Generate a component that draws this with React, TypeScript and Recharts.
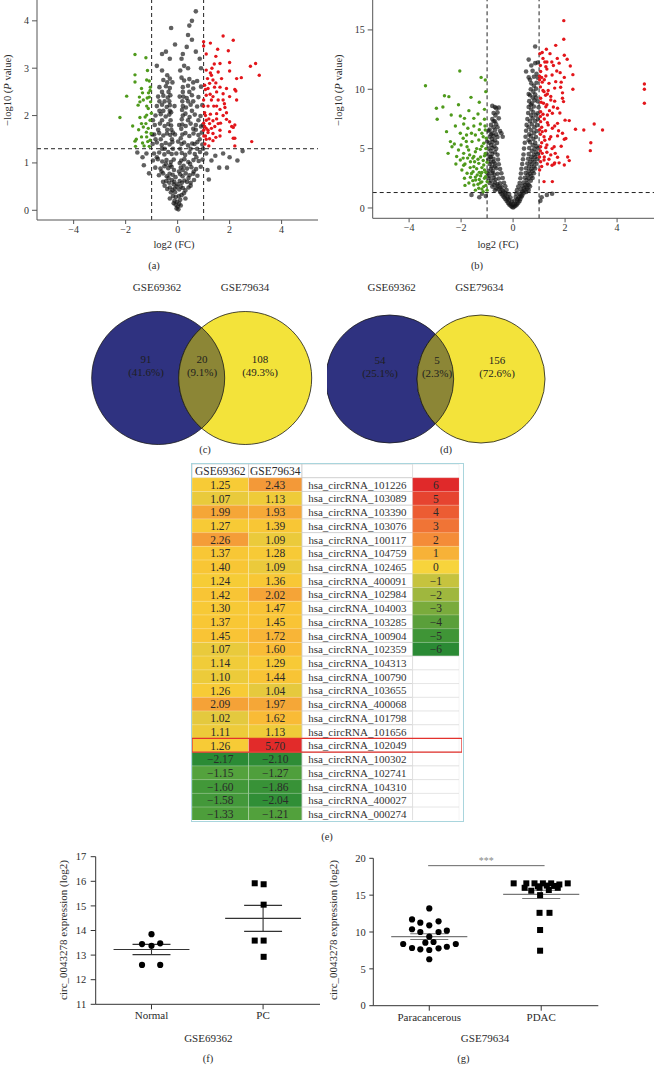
import React from "react";
import {
  Bar,
  BarChart,
  Cell,
  LabelList,
  ReferenceArea,
  ReferenceLine,
  Scatter,
  ScatterChart,
  XAxis,
  YAxis,
} from "recharts";

const SERIF = "'Liberation Serif', 'DejaVu Serif', Times, serif";
const INK = "#2b2b2b";

// (a) GSE69362 volcano, [log2 FC, -log10 P]
const upA: [number, number][] = [
  [1.75, 3.68], [2.14, 3.59], [1.26, 3.53], [1.0, 3.56], [1.54, 3.4], [1.95, 3.37], [1.0, 3.47], [1.1, 3.3],
  [1.47, 3.25], [2.8, 3.04], [3.0, 3.1], [3.14, 2.85], [2.0, 3.12], [2.0, 2.94], [2.45, 2.8], [2.27, 2.78],
  [1.63, 3.1], [1.41, 3.09], [1.1, 2.96], [1.26, 2.9], [1.56, 2.92], [1.69, 2.78], [1.36, 2.75], [1.04, 2.64],
  [1.17, 2.57], [1.47, 2.69], [1.63, 2.6], [1.88, 2.57], [2.2, 2.55], [2.24, 2.52], [1.1, 2.43], [1.36, 2.4],
  [1.56, 2.33], [1.75, 2.33], [2.27, 2.33], [1.0, 2.33], [1.17, 2.2], [1.39, 2.2], [1.63, 2.13], [1.82, 2.17],
  [1.04, 2.06], [1.26, 2.03], [1.5, 2.04], [1.1, 1.9], [1.36, 1.89], [1.65, 1.84], [2.0, 1.87], [1.88, 1.92],
  [2.2, 1.8], [1.04, 1.77], [1.23, 1.83], [1.43, 1.77], [2.14, 1.75], [1.17, 1.69], [1.36, 1.62], [1.63, 1.69],
  [1.07, 1.57], [1.23, 1.51], [1.47, 1.54], [2.85, 1.45], [1.1, 1.5], [1.17, 1.64], [2.14, 1.52], [2.08, 1.77],
  [2.2, 1.52], [1.23, 2.68], [1.07, 2.55], [1.5, 2.5], [1.75, 2.46], [1.3, 2.33], [2.0, 2.4], [1.0, 2.2],
  [1.5, 2.2], [1.88, 2.06], [1.07, 2.0], [1.2, 1.93], [1.5, 1.93], [1.75, 2.0], [1.0, 1.84], [1.3, 1.73],
  [1.56, 1.83], [2.0, 1.66], [1.0, 1.69], [1.36, 1.47], [1.01, 1.57], [1.63, 1.57], [1.1, 1.73], [2.2, 1.36],
  [1.2, 1.36], [1.05, 1.4], [1.3, 2.85], [1.42, 2.6], [1.15, 2.78], [1.32, 3.0], [1.8, 2.25], [1.25, 2.45],
];
const downA: [number, number][] = [
  [-1.64, 3.29], [-1.22, 3.22], [-1.64, 2.86], [-1.64, 2.71], [-1.16, 2.95], [-1.19, 2.75], [-1.09, 2.73],
  [-1.96, 2.41], [-2.22, 1.96], [-1.73, 1.78], [-1.39, 2.57], [-1.35, 2.48], [-1.45, 2.29], [-1.32, 2.33],
  [-1.52, 2.22], [-1.19, 2.2], [-1.13, 2.15], [-1.06, 2.53], [-1.09, 2.39], [-1.19, 2.01], [-1.39, 1.83],
  [-1.22, 1.83], [-1.06, 1.9], [-1.32, 1.76], [-1.13, 1.73], [-1.59, 1.5], [-1.64, 1.46], [-1.39, 1.55],
  [-1.19, 1.55], [-1.06, 1.48], [-1.29, 1.36], [-1.62, 1.35], [-1.09, 1.35], [-1.45, 1.96], [-1.25, 1.97],
  [-1.04, 2.29], [-1.17, 2.37], [-1.47, 2.39], [-1.01, 2.05], [-1.2, 1.65], [-1.5, 1.7], [-1.02, 1.62],
  [-1.35, 1.42], [-1.15, 1.45], [-1.05, 2.6], [-1.12, 2.48],
];
const restA: [number, number][] = [
  [-0.04, 0.04], [0.03, 0.02], [0.0, 0.08], [-0.08, 0.12], [0.06, 0.14], [-0.12, 0.2], [0.1, 0.22], [-0.02, 0.18],
  [-0.18, 0.3], [-0.07, 0.28], [0.05, 0.3], [0.15, 0.32], [0.24, 0.36], [-0.26, 0.38],
  [-0.4, 0.45], [-0.3, 0.48], [-0.2, 0.43], [-0.11, 0.46], [-0.04, 0.5], [0.06, 0.44], [0.12, 0.5], [0.2, 0.47], [0.3, 0.42], [0.42, 0.48],
  [-0.56, 0.6], [-0.44, 0.62], [-0.32, 0.58], [-0.22, 0.64], [-0.13, 0.6], [0.08, 0.62], [0.16, 0.58], [0.26, 0.63], [0.36, 0.6], [0.5, 0.58], [0.63, 0.64],
  [-0.72, 0.74], [-0.56, 0.78], [-0.42, 0.72], [-0.31, 0.77], [-0.19, 0.75], [0.1, 0.76], [0.19, 0.72], [0.31, 0.78], [0.46, 0.74], [0.6, 0.77], [0.76, 0.73],
  [-0.86, 0.9], [-0.66, 0.88], [-0.51, 0.93], [-0.36, 0.89], [-0.23, 0.92], [0.12, 0.9], [0.23, 0.94], [0.36, 0.88], [0.53, 0.91], [0.71, 0.87], [0.89, 0.92],
  [-0.95, 1.05], [-0.76, 1.08], [-0.59, 1.03], [-0.43, 1.06], [-0.26, 1.02], [-0.15, 1.07], [0.14, 1.05], [0.26, 1.08], [0.41, 1.02], [0.61, 1.06], [0.81, 1.04], [0.96, 1.07],
  [-0.91, 1.2], [-0.71, 1.22], [-0.51, 1.18], [-0.36, 1.23], [-0.23, 1.19], [0.16, 1.21], [0.29, 1.17], [0.46, 1.22], [0.66, 1.19], [0.86, 1.23],
  [-1.55, 1.22], [-1.3, 0.95], [-1.2, 1.2], [-1.1, 0.78], [-1.35, 1.12], [1.15, 0.85], [1.3, 1.05], [1.6, 0.9], [1.9, 0.9], [2.3, 1.05],
  [2.5, 1.25], [1.75, 1.2], [2.0, 1.12], [1.1, 1.2], [1.45, 1.15], [1.2, 0.65],
  [-0.96, 1.4], [-0.8, 1.43], [-0.61, 1.38], [-0.46, 1.42], [-0.31, 1.39], [-0.2, 1.44], [0.15, 1.4], [0.25, 1.43], [0.4, 1.37], [0.56, 1.41], [0.76, 1.44], [0.95, 1.39],
  [-0.9, 1.6], [-0.71, 1.63], [-0.55, 1.58], [-0.41, 1.62], [-0.28, 1.59], [-0.18, 1.64], [0.18, 1.6], [0.3, 1.63], [0.45, 1.57], [0.61, 1.62], [0.8, 1.59], [0.93, 1.64],
  [-0.88, 1.8], [-0.68, 1.83], [-0.5, 1.78], [-0.36, 1.82], [-0.25, 1.79], [0.18, 1.81], [0.31, 1.78], [0.5, 1.83], [0.7, 1.8], [0.9, 1.77],
  [-0.85, 2.0], [-0.65, 2.03], [-0.46, 1.98], [-0.32, 2.02], [-0.25, 2.07], [0.2, 2.0], [0.3, 2.04], [0.46, 1.97], [0.66, 2.02], [0.88, 1.99],
  [-0.8, 2.2], [-0.6, 2.23], [-0.42, 2.18], [-0.3, 2.22], [0.2, 2.2], [0.32, 2.17], [0.5, 2.23], [0.75, 2.19], [0.95, 2.22],
  [-0.75, 2.4], [-0.55, 2.42], [-0.38, 2.38], [-0.28, 2.43], [0.22, 2.4], [0.35, 2.37], [0.55, 2.43], [0.8, 2.39],
  [-0.7, 2.6], [-0.45, 2.62], [-0.3, 2.58], [0.2, 2.6], [0.4, 2.63], [0.6, 2.57], [0.9, 2.61],
  [-0.55, 2.75], [-0.3, 2.78], [0.25, 2.74], [0.45, 2.77], [0.75, 2.73],
  [-0.6, 2.95], [-0.3, 3.2], [-0.45, 3.35], [-0.6, 3.3], [-0.1, 3.5], [0.25, 3.05], [0.4, 3.0], [0.2, 3.3], [0.35, 3.45], [-0.25, 3.85],
  [0.4, 3.7], [0.55, 3.6], [0.7, 3.35], [0.85, 3.2], [0.55, 4.0], [0.7, 4.2], [0.45, 3.9], [0.9, 3.0], [-0.8, 3.05], [0.15, 3.2],
  [-0.1, 0.38], [0.0, 0.55], [-0.08, 0.7], [0.05, 0.82], [-0.14, 0.85], [0.08, 1.0], [-0.18, 1.3], [0.1, 1.3], [-0.22, 1.5], [0.12, 1.52],
  [-0.24, 1.7], [0.14, 1.72], [-0.27, 1.9], [0.16, 1.92], [-0.3, 2.1], [0.17, 2.12], [-0.32, 2.3], [0.18, 2.3], [-0.35, 2.5], [0.2, 2.5],
  [-0.2, 2.7], [0.15, 2.8], [-0.5, 1.3], [0.5, 1.3], [-0.65, 1.5], [0.7, 1.7], [-0.4, 1.7], [0.4, 1.9], [-0.55, 2.1], [0.6, 2.3], [-0.7, 2.3], [0.65, 1.4],
  [-0.15, 0.15], [0.12, 0.1], [-0.3, 0.25], [0.3, 0.25], [-0.5, 0.52], [0.5, 0.52], [-0.35, 0.68], [0.42, 0.68], [-0.62, 0.82], [0.62, 0.82],
  [-0.45, 0.98], [0.48, 0.98], [-0.8, 1.12], [0.72, 1.12], [-0.6, 1.3], [0.75, 1.3], [-0.85, 1.5], [0.85, 1.5], [-0.75, 1.7], [0.6, 1.72],
  [-0.6, 1.9], [0.8, 1.9], [-0.7, 2.1], [0.55, 2.1], [-0.5, 2.3], [0.4, 2.3], [-0.6, 2.5], [0.45, 2.5], [-0.4, 2.7], [0.6, 2.7],
  [-0.12, 2.2], [0.08, 2.4], [-0.1, 1.6], [0.06, 1.8], [-0.05, 1.2], [0.02, 1.45], [-0.4, 2.85], [0.1, 2.95], [-0.95, 1.9], [0.98, 1.3],
  [-0.98, 1.6], [0.97, 1.8], [-0.15, 0.55], [0.2, 0.85], [-0.28, 0.95],
];

// (b) GSE79634 volcano
const upB: [number, number][] = [
  [1.95, 15.78], [1.95, 14.21], [1.64, 13.7], [1.28, 13.37], [1.12, 13.1], [1.03, 13.0], [1.97, 12.86], [2.08, 12.53],
  [1.49, 12.3], [1.22, 12.3], [1.77, 12.2], [2.2, 11.96], [1.26, 11.9], [1.06, 11.5], [1.68, 11.54], [1.81, 11.4],
  [2.3, 11.23], [1.26, 11.12], [1.97, 11.0], [1.64, 10.64], [1.12, 10.6], [2.3, 10.0], [1.83, 10.17], [1.19, 9.8],
  [1.32, 9.6], [1.06, 9.24], [1.9, 9.24], [1.45, 9.1], [1.17, 8.82], [1.94, 8.96], [1.26, 8.53], [1.71, 8.4],
  [1.06, 8.11], [1.51, 7.98], [1.32, 7.83], [2.16, 7.36], [1.06, 7.27], [1.32, 7.19], [1.71, 7.13], [3.12, 7.08],
  [1.51, 6.71], [2.4, 6.63], [2.72, 6.57], [3.44, 6.57], [1.12, 6.43], [1.19, 6.0], [1.45, 6.0], [1.71, 6.07],
  [1.97, 5.79], [2.03, 5.85], [2.99, 5.5], [1.06, 5.16], [1.26, 5.08], [1.58, 5.16], [2.97, 4.83], [1.12, 4.6],
  [1.45, 4.47], [1.71, 4.27], [1.19, 4.04], [2.16, 3.99], [1.06, 3.9], [1.32, 3.71], [1.58, 3.71], [1.77, 3.8],
  [1.97, 3.62], [1.19, 2.22], [1.51, 2.22], [5.05, 10.45], [5.05, 10.0], [5.05, 8.82],
  [1.05, 12.0], [1.1, 11.0], [1.05, 10.2], [1.15, 9.9], [1.25, 9.5], [1.08, 8.9], [1.3, 8.7], [1.4, 8.2],
  [1.05, 7.7], [1.2, 7.5], [1.35, 7.0], [1.1, 6.8], [1.25, 6.5], [1.05, 6.2], [1.4, 5.8], [1.1, 5.5],
  [1.3, 5.3], [1.5, 5.0], [1.05, 4.8], [1.2, 4.3], [1.38, 4.1], [1.6, 3.8], [1.1, 3.5], [1.45, 9.4],
  [1.6, 9.0], [1.55, 8.5], [1.8, 8.0], [1.5, 11.2], [1.38, 10.5], [1.6, 10.1], [1.9, 9.7], [1.75, 6.5],
  [1.6, 6.9], [2.0, 7.4], [1.9, 6.3], [1.3, 11.7], [1.55, 12.0], [1.2, 10.8], [1.7, 12.6], [1.42, 13.0],
  [1.15, 12.6], [1.85, 10.6], [1.02, 10.8], [1.35, 9.9], [1.15, 7.9], [1.02, 6.6], [1.22, 5.7], [1.62, 4.6],
  [1.3, 4.7], [1.85, 5.2], [2.1, 4.3], [1.5, 3.6], [1.02, 4.3], [1.02, 3.2], [1.02, 11.1], [1.3, 12.3],
];
const downB: [number, number][] = [
  [-3.37, 10.3], [-2.05, 11.54], [-1.23, 11.0], [-1.07, 10.78], [-2.64, 9.46], [-2.47, 9.38], [-1.62, 9.32], [-2.95, 8.4],
  [-1.1, 8.31], [-1.35, 7.92], [-2.38, 7.83], [-2.03, 7.75], [-2.92, 7.47], [-1.87, 7.55], [-1.51, 7.55], [-2.56, 6.43],
  [-2.22, 6.9], [-1.9, 7.08], [-1.74, 6.71], [-1.51, 6.9], [-1.26, 7.08], [-1.1, 7.47], [-2.03, 6.29], [-1.79, 6.15],
  [-1.45, 6.15], [-1.2, 6.29], [-1.07, 6.57], [-2.41, 5.59], [-2.26, 5.39], [-1.92, 5.87], [-1.77, 5.16], [-1.58, 5.59],
  [-1.32, 5.73], [-1.13, 5.45], [-1.03, 5.87], [-2.1, 4.89], [-1.9, 4.6], [-1.67, 4.47], [-1.45, 4.74], [-1.26, 4.94],
  [-1.07, 4.6], [-2.03, 4.04], [-1.85, 3.71], [-1.64, 3.9], [-1.51, 3.48], [-1.32, 3.76], [-1.13, 3.62], [-1.0, 3.85],
  [-1.97, 3.2], [-1.77, 2.92], [-1.54, 3.06], [-1.38, 2.78], [-1.23, 2.92], [-1.06, 2.64], [-1.44, 2.36], [-1.26, 2.13],
  [-1.13, 1.8], [-1.32, 1.66], [-1.51, 1.94], [-1.64, 2.59], [-1.87, 2.5], [-1.0, 2.22], [-1.15, 1.37], [-1.0, 1.5],
  [-1.71, 4.89], [-2.17, 4.33], [-2.35, 5.16], [-1.51, 4.33],
  [-1.1, 3.2], [-1.2, 3.4], [-1.3, 3.0], [-1.4, 3.3], [-1.15, 4.0], [-1.25, 4.3], [-1.35, 4.1], [-1.05, 5.0],
  [-1.2, 5.2], [-1.4, 5.0], [-1.55, 4.2], [-1.65, 3.4], [-1.75, 4.2], [-1.1, 2.5], [-1.2, 2.2], [-1.3, 2.4],
  [-1.45, 2.6], [-1.6, 2.9], [-1.05, 3.0], [-1.15, 6.0], [-1.3, 6.6], [-1.08, 6.9], [-1.9, 3.6], [-2.2, 3.7],
  [-2.5, 4.6], [-1.8, 5.6], [-1.6, 6.3], [-2.0, 5.3], [-1.35, 2.0], [-1.55, 2.3], [-1.7, 2.1], [-1.05, 1.9],
  [-1.2, 1.6], [-1.45, 1.5], [-1.85, 1.9], [-2.7, 8.5], [-1.3, 8.9], [-1.05, 9.8], [-1.7, 8.2], [-2.1, 8.7],
  [-1.2, 3.0], [-1.1, 4.4], [-1.48, 3.9], [-1.92, 4.2], [-1.25, 2.7],
];
const restB: [number, number][] = [
  [-0.05, 0.1], [0, 0.05], [0.05, 0.12], [-0.15, 0.3], [-0.08, 0.35], [0, 0.28], [0.08, 0.32], [0.15, 0.3],
  [-0.25, 0.6], [-0.15, 0.65], [-0.05, 0.55], [0.05, 0.6], [0.15, 0.62], [0.25, 0.58],
  [-0.35, 0.9], [-0.22, 0.95], [-0.1, 0.88], [0.1, 0.92], [0.22, 0.9], [0.32, 0.95],
  [-0.45, 1.2], [-0.3, 1.25], [-0.15, 1.18], [0.12, 1.22], [0.25, 1.2], [0.4, 1.25],
  [-0.7, 1.5], [-0.55, 1.55], [-0.4, 1.48], [-0.25, 1.52], [0.15, 1.5], [0.3, 1.55], [0.45, 1.48], [0.6, 1.52],
  [-0.8, 1.8], [-0.6, 1.85], [-0.45, 1.78], [-0.3, 1.82], [0.2, 1.8], [0.35, 1.85], [0.5, 1.78], [0.65, 1.82],
  [-0.9, 2.1], [-0.7, 2.15], [-0.5, 2.08], [-0.35, 2.12], [0.25, 2.1], [0.4, 2.15], [0.55, 2.08],
  [-0.95, 2.5], [-0.75, 2.55], [-0.55, 2.48], [-0.4, 2.52], [0.28, 2.5], [0.45, 2.55], [0.6, 2.48], [0.75, 2.52],
  [-0.98, 2.9], [-0.8, 2.95], [-0.6, 2.88], [-0.45, 2.92], [0.3, 2.9], [0.48, 2.95], [0.65, 2.88], [0.8, 2.92],
  [-0.85, 3.3], [-0.65, 3.35], [-0.5, 3.28], [0.32, 3.3], [0.5, 3.35], [0.7, 3.28], [0.85, 3.32],
  [-0.9, 3.7], [-0.7, 3.75], [-0.55, 3.68], [0.35, 3.7], [0.55, 3.75], [0.72, 3.68], [0.9, 3.72],
  [-0.95, 4.1], [-0.75, 4.15], [-0.58, 4.08], [0.38, 4.1], [0.58, 4.15], [0.75, 4.08], [0.92, 4.12],
  [-0.98, 4.5], [-0.8, 4.55], [-0.6, 4.48], [0.4, 4.5], [0.6, 4.55], [0.8, 4.48], [0.95, 4.52],
  [-0.95, 5.0], [-0.8, 5.05], [-0.65, 4.98], [0.42, 5.0], [0.62, 5.05], [0.82, 4.98], [0.97, 5.02],
  [-0.92, 5.5], [-0.78, 5.55], [-0.62, 5.48], [0.45, 5.5], [0.65, 5.55], [0.85, 5.48],
  [-0.9, 6.0], [-0.75, 6.05], [-0.6, 5.98], [0.48, 6.0], [0.68, 6.05], [0.88, 5.98],
  [-0.95, 6.5], [-0.7, 6.55], [-0.5, 6.48], [0.5, 6.5], [0.7, 6.55], [0.9, 6.48],
  [-0.85, 7.0], [-0.65, 7.05], [0.52, 7.0], [0.72, 7.05], [0.92, 6.98],
  [-0.8, 7.5], [-0.55, 7.55], [0.55, 7.5], [0.75, 7.55], [0.95, 7.48],
  [-0.75, 8.0], [-0.6, 8.05], [0.58, 8.0], [0.78, 8.05], [0.95, 7.98],
  [-0.7, 8.5], [-0.55, 8.45], [0.6, 8.5], [0.8, 8.55], [0.98, 8.48],
  [0.62, 9.0], [0.82, 9.05], [0.95, 8.98], [0.65, 9.5], [0.85, 9.55], [0.68, 10.0], [0.88, 10.05], [0.7, 10.5], [0.9, 10.55],
  [0.6, 11.0], [0.8, 11.05], [0.95, 10.98], [0.5, 11.5], [0.75, 11.55], [0.85, 12.2], [0.95, 12.25], [0.85, 13.6],
  [-0.45, 6.3], [-0.4, 6.0], [-0.65, 8.4], [-0.8, 8.6], [-0.9, 6.6], [-1.0, 5.6], [-1.05, 1.0], [-1.3, 0.9],
  [-1.2, 1.2], [1.1, 0.9], [1.3, 1.1], [1.05, 0.6], [1.5, 1.2], [-1.6, 1.1],
  [-0.2, 0.8], [0.18, 0.75], [-0.3, 1.1], [0.28, 1.05], [-0.38, 1.4], [0.36, 1.38], [-0.5, 1.7], [0.42, 1.65],
  [-0.6, 2.0], [0.47, 1.95], [-0.68, 2.4], [0.52, 2.35], [-0.72, 2.8], [0.56, 2.75], [-0.78, 3.1], [0.6, 3.1],
  [-0.82, 3.5], [0.62, 3.5], [-0.85, 3.9], [0.66, 3.9], [-0.88, 4.3], [0.7, 4.3], [-0.86, 4.8], [0.72, 4.8],
  [-0.85, 5.3], [0.75, 5.3], [-0.82, 5.8], [0.78, 5.8], [-0.8, 6.3], [0.8, 6.3], [-0.75, 6.8], [0.82, 6.8],
  [-0.7, 7.3], [0.85, 7.3], [-0.68, 7.8], [0.88, 7.8], [0.7, 8.3], [0.72, 8.8], [0.75, 9.3], [0.78, 9.8],
  [-0.1, 0.2], [0.1, 0.2], [-0.2, 0.45], [0.2, 0.45], [-0.3, 0.75], [0.28, 0.75], [-0.4, 1.05], [0.35, 1.05],
  [-0.5, 1.35], [0.5, 1.35], [-0.65, 1.65], [0.55, 1.65], [-0.75, 1.95], [0.6, 1.95], [-0.85, 2.3], [0.68, 2.3],
  [-0.9, 2.7], [0.7, 2.7], [-0.95, 3.1], [0.75, 3.1], [-0.7, 3.5], [0.8, 3.5], [-0.75, 3.9], [0.82, 3.9],
  [-0.85, 4.3], [0.85, 4.3], [-0.7, 4.7], [0.88, 4.7], [-0.72, 5.2], [0.9, 5.2], [-0.7, 5.7], [0.6, 5.7],
  [-0.65, 6.2], [0.62, 6.2], [-0.85, 6.2], [0.6, 6.8], [-0.6, 6.8], [0.65, 7.3], [-0.75, 7.3], [0.7, 7.8],
  [0.68, 8.7], [0.88, 9.3], [0.6, 9.6], [0.8, 10.3], [0.65, 10.8], [0.9, 11.3], [0.7, 12.0], [0.6, 12.5],
];

// (c) up / (d) down overlap counts
const vennSets = ["GSE69362", "GSE79634"];
const vennUp = [91, 20, 108];
const vennUpPct = [41.6, 9.1, 49.3];
const vennDown = [54, 5, 156];
const vennDownPct = [25.1, 2.3, 72.6];

// (e) shared circRNAs, log2 FC in both sets
const circIds = [
  "hsa_circRNA_101226", "hsa_circRNA_103089", "hsa_circRNA_103390", "hsa_circRNA_103076", "hsa_circRNA_100117",
  "hsa_circRNA_104759", "hsa_circRNA_102465", "hsa_circRNA_400091", "hsa_circRNA_102984", "hsa_circRNA_104003",
  "hsa_circRNA_103285", "hsa_circRNA_100904", "hsa_circRNA_102359", "hsa_circRNA_104313", "hsa_circRNA_100790",
  "hsa_circRNA_103655", "hsa_circRNA_400068", "hsa_circRNA_101798", "hsa_circRNA_101656", "hsa_circRNA_102049",
  "hsa_circRNA_100302", "hsa_circRNA_102741", "hsa_circRNA_104310", "hsa_circRNA_400027", "hsa_circRNA_000274",
];
const fcGSE69362 = [
  1.25, 1.07, 1.99, 1.27, 2.26, 1.37, 1.4, 1.24, 1.42, 1.3, 1.37, 1.45, 1.07, 1.14, 1.1, 1.26, 2.09, 1.02, 1.11, 1.26,
  -2.17, -1.15, -1.6, -1.58, -1.33,
];
const fcGSE79634 = [
  2.43, 1.13, 1.93, 1.39, 1.09, 1.28, 1.09, 1.36, 2.02, 1.47, 1.45, 1.72, 1.6, 1.29, 1.44, 1.04, 1.97, 1.62, 1.13, 5.7,
  -2.1, -1.27, -1.86, -2.04, -1.21,
];
const scaleSteps = [6, 5, 4, 3, 2, 1, 0, -1, -2, -3, -4, -5, -6];
const markedCirc = "hsa_circRNA_102049";

// (f) GSE69362 and (g) GSE79634 circ_0043278 expression
const groupsF = ["Normal", "PC"];
const normalExpr = [13.85, 13.45, 13.38, 13.48, 12.6, 12.6];
const normalJitter = [0, -0.085, 0, 0.078, -0.085, 0.078];
const pcExpr = [15.92, 15.88, 15.05, 13.59, 13.59, 12.93];
const pcJitter = [-0.075, 0.005, 0.005, -0.075, 0.005, 0.005];

const groupsG = ["Paracancerous", "PDAC"];
const paraExpr = [
  13.2, 11.7, 11.26, 11.45, 10.9, 10.37, 10.0, 10.0, 10.18, 9.36, 8.55, 8.64, 8.37, 7.83, 7.65, 7.56, 7.79, 8.0, 8.37, 6.3,
];
const paraJitter = [
  0, -0.154, -0.08, 0.083, 0, -0.154, -0.08, 0.083, 0.157, 0, -0.035, 0.038, -0.233, -0.154, -0.08, 0, 0.083, 0.157, 0.237, 0,
];
const pdacExpr = [
  16.6, 16.6, 16.6, 16.6, 16.6, 16.6, 16.45, 16.0, 15.6, 16.0, 15.7, 16.0, 16.2, 16.3, 16.25, 15.0, 12.6, 12.6, 10.27, 7.46,
];
const pdacJitter = [
  -0.246, -0.133, -0.06, 0.015, 0.089, 0.237, 0.162, -0.148, -0.089, -0.015, 0.068, 0.148, -0.03, 0.05, 0.115, -0.01,
  -0.015, 0.074, -0.01, -0.01,
];

// ---------- helpers ----------
const toXY = (pts: [number, number][]) => pts.map(([x, y]) => ({ x, y }));
const minus = (v: number, digits = 0) => (v < 0 ? "\u2212" : "") + Math.abs(v).toFixed(digits);

const dot = (fill: string, r: number, opacity = 1) => (p: any) =>
  <circle cx={p.cx} cy={p.cy} r={r} fill={fill} fillOpacity={opacity} />;

const hexToRgb = (h: string) => [1, 3, 5].map((i) => parseInt(h.slice(i, i + 2), 16));
const heatStops: [number, string][] = [
  [-2.2, "#2a8a35"], [-1.1, "#56a33d"], [1.0, "#e2c83f"], [1.2, "#f6cd36"], [1.5, "#f9c235"],
  [1.75, "#f8b337"], [2.0, "#f5a537"], [2.45, "#f39838"], [5.7, "#e22b2a"],
];
const heat = (v: number) => {
  if (v <= heatStops[0][0]) return heatStops[0][1];
  for (let i = 1; i < heatStops.length; i++) {
    const [v1, c1] = heatStops[i];
    const [v0, c0] = heatStops[i - 1];
    if (v <= v1) {
      const t = (v - v0) / (v1 - v0);
      const a = hexToRgb(c0);
      const b = hexToRgb(c1);
      return `rgb(${a.map((x, k) => Math.round(x + (b[k] - x) * t)).join(",")})`;
    }
  }
  return heatStops[heatStops.length - 1][1];
};
const stepColors = [
  "#e0292a", "#e64430", "#ec5c33", "#f07436", "#f48c38", "#f7b238", "#f7d43c",
  "#c6c33e", "#9fb73e", "#7aab3c", "#5a9f3a", "#3f9536", "#2a8a34",
];

const stats = (v: number[]) => {
  const m = v.reduce((s, x) => s + x, 0) / v.length;
  const sd = Math.sqrt(v.reduce((s, x) => s + (x - m) ** 2, 0) / (v.length - 1));
  return { m, se: sd / Math.sqrt(v.length) };
};

const Txt = ({ x, y, size = 10.5, rotate = false, color = INK, children }: any) => (
  <div
    style={{
      position: "absolute",
      left: x,
      top: y,
      transform: `translate(-50%, -50%)${rotate ? " rotate(-90deg)" : ""}`,
      fontSize: size,
      fontFamily: SERIF,
      color,
      whiteSpace: "nowrap",
      lineHeight: 1,
    }}
  >
    {children}
  </div>
);

const tickStyle = { fontSize: 10, fill: "#333", fontFamily: SERIF };

// ---------- volcano ----------
const Volcano = ({ left, up, down, rest, yDomain, yTicks, yWidth, xHeight, xDomain, right }: any) => (
  <div style={{ position: "absolute", left, top: 0 }}>
    <ScatterChart width={327} height={250} margin={{ top: 0, right, bottom: 0, left: 0 }}>
      <XAxis
        type="number"
        dataKey="x"
        domain={xDomain}
        ticks={[-4, -2, 0, 2, 4]}
        tickFormatter={(v) => minus(v)}
        allowDataOverflow
        height={xHeight}
        stroke="#555"
        tick={tickStyle}
        tickSize={4}
        tickMargin={2}
      />
      <YAxis
        type="number"
        dataKey="y"
        domain={yDomain}
        ticks={yTicks}
        allowDataOverflow
        width={yWidth}
        stroke="#555"
        tick={tickStyle}
        tickSize={5}
        tickMargin={3}
      />
      <Scatter data={toXY(rest)} shape={dot("#141414", 2.3, 0.68)} isAnimationActive={false} />
      <Scatter data={toXY(down)} shape={dot("#4f9a1c", 1.7)} isAnimationActive={false} />
      <Scatter data={toXY(up)} shape={dot("#e3161b", 1.7)} isAnimationActive={false} />
      <ReferenceLine x={-1} stroke="#222" strokeDasharray="4 3" />
      <ReferenceLine x={1} stroke="#222" strokeDasharray="4 3" />
      <ReferenceLine y={1.3} stroke="#222" strokeDasharray="4 3" />
    </ScatterChart>
  </div>
);

// ---------- venn ----------
const VENN_BLUE = "#2f3280";
const VENN_YELLOW = "#f3e33a";
const VENN_OLIVE = "#8c8636";

const Venn = ({ left, cLeft, cRight, cy, r, counts, pct, labelX }: any) => {
  const circles = [
    { x: cLeft, y: cy, fill: VENN_BLUE },
    { x: cRight, y: cy, fill: VENN_YELLOW },
  ];
  const lens = [{ x: (cLeft + cRight) / 2, y: cy }];
  const labels = counts.map((c: number, i: number) => ({ x: labelX[i], y: cy - 13, c, p: pct[i] }));
  const half = Math.sqrt(r * r - ((cRight - cLeft) / 2) ** 2);
  return (
    <div style={{ position: "absolute", left, top: 272 }}>
      <ScatterChart width={327} height={180} margin={{ top: 0, right: 0, bottom: 0, left: 0 }}>
        <XAxis type="number" dataKey="x" domain={[0, 327]} hide allowDataOverflow />
        <YAxis type="number" dataKey="y" domain={[0, 180]} reversed hide allowDataOverflow />
        <Scatter
          data={circles}
          isAnimationActive={false}
          shape={(p: any) => (
            <circle cx={p.cx} cy={p.cy} r={r} fill={p.payload.fill} stroke="#1a1a1a" strokeWidth={0.8} />
          )}
        />
        <Scatter
          data={lens}
          isAnimationActive={false}
          shape={(p: any) => (
            <path
              d={`M${p.cx},${p.cy - half} A${r},${r} 0 0 1 ${p.cx},${p.cy + half} A${r},${r} 0 0 1 ${p.cx},${p.cy - half} Z`}
              fill={VENN_OLIVE}
              stroke="#1a1a1a"
              strokeWidth={0.8}
            />
          )}
        />
        <Scatter
          data={labels}
          isAnimationActive={false}
          shape={(p: any) => (
            <g fontFamily={SERIF} fontSize={11} fill="#1e1e1e" textAnchor="middle">
              <text x={p.cx} y={p.cy - 6.5} dominantBaseline="central">{p.payload.c}</text>
              <text x={p.cx} y={p.cy + 7.2} dominantBaseline="central">({p.payload.p}%)</text>
            </g>
          )}
        />
      </ScatterChart>
    </div>
  );
};

// ---------- heat table ----------
const COL_W = { w1: 56.6, w2: 53.4, w3: 110.6, w4: 46.7, w5: 2.7 };
const GRID = "#c6c6c6";
const tableRows = [
  { id: "header", ...COL_W, t1: "GSE69362", t2: "GSE79634", t3: "", t4: "", f1: "#fff", f2: "#fff", f4: "#fff", hdr: true },
  ...circIds.map((id, i) => ({
    id,
    ...COL_W,
    t1: minus(fcGSE69362[i], 2),
    t2: minus(fcGSE79634[i], 2),
    t3: id,
    t4: i < scaleSteps.length ? minus(scaleSteps[i]) : "",
    f1: heat(fcGSE69362[i]),
    f2: heat(fcGSE79634[i]),
    f4: i < scaleSteps.length ? stepColors[i] : "#fff",
    hdr: false,
  })),
];
const labelStyle = { fill: INK, fontSize: 11.5, fontFamily: SERIF };

const HeatTable = () => (
  <div
    style={{
      position: "absolute",
      left: 191.2,
      top: 462.5,
      width: 273,
      height: 359.8,
      border: "1.5px solid #a9d5dd",
      boxSizing: "border-box",
      background: "#fff",
    }}
  >
    <BarChart
      width={270}
      height={356.8}
      data={tableRows}
      layout="vertical"
      barCategoryGap={0}
      barGap={0}
      margin={{ top: 0, right: 0, bottom: 0, left: 0 }}
    >
      <XAxis type="number" domain={[0, 270]} hide allowDataOverflow />
      <YAxis type="category" dataKey="id" hide />
      <Bar dataKey="w1" stackId="t" isAnimationActive={false}>
        {tableRows.map((r, i) => (
          <Cell key={i} fill={r.f1} stroke={r.hdr ? GRID : "#fff"} strokeOpacity={r.hdr ? 1 : 0.35} strokeWidth={0.7} />
        ))}
        <LabelList dataKey="t1" position="center" {...labelStyle} />
      </Bar>
      <Bar dataKey="w2" stackId="t" isAnimationActive={false}>
        {tableRows.map((r, i) => (
          <Cell key={i} fill={r.f2} stroke={r.hdr ? GRID : "#fff"} strokeOpacity={r.hdr ? 1 : 0.35} strokeWidth={0.7} />
        ))}
        <LabelList dataKey="t2" position="center" {...labelStyle} />
      </Bar>
      <Bar dataKey="w3" stackId="t" isAnimationActive={false}>
        {tableRows.map((r, i) => (
          <Cell key={i} fill="#fff" stroke={GRID} strokeWidth={0.7} />
        ))}
        <LabelList dataKey="t3" position="center" {...labelStyle} fontSize={11} fill="#333" />
      </Bar>
      <Bar dataKey="w4" stackId="t" isAnimationActive={false}>
        {tableRows.map((r, i) => (
          <Cell key={i} fill={r.f4} stroke={r.f4 === "#fff" ? "#dcdcdc" : "#fff"} strokeOpacity={r.f4 === "#fff" ? 1 : 0.3} strokeWidth={0.7} />
        ))}
        <LabelList dataKey="t4" position="center" {...labelStyle} />
      </Bar>
      <Bar dataKey="w5" stackId="t" isAnimationActive={false} fill="#fff" />
      <ReferenceArea
        y1={markedCirc}
        y2={markedCirc}
        x1={0}
        x2={270}
        fill="none"
        fillOpacity={0}
        stroke="#e3322d"
        strokeWidth={1.3}
        ifOverflow="visible"
        zIndex={1500}
      />
    </BarChart>
  </div>
);

// ---------- strip plots ----------
const summaryLines = (pos: number, vals: number[], meanHalf: number, capHalf: number, color: string) => {
  const { m, se } = stats(vals);
  const segs = [
    [pos - meanHalf, m, pos + meanHalf, m],
    [pos, m - se, pos, m + se],
    [pos - capHalf, m + se, pos + capHalf, m + se],
    [pos - capHalf, m - se, pos + capHalf, m - se],
  ];
  return segs.map((s, i) => (
    <ReferenceLine
      key={`${pos}-${i}`}
      segment={[{ x: s[0], y: s[1] }, { x: s[2], y: s[3] }]}
      stroke={color}
      strokeWidth={1.1}
      ifOverflow="visible"
    />
  ));
};

const square = (p: any) => <rect x={p.cx - 3} y={p.cy - 3} width={6} height={6} fill="#000" />;
const roundDot = (p: any) => <circle cx={p.cx} cy={p.cy} r={3.1} fill="#000" />;

const Strip = ({ left, width, margin, xHeight, yDomain, yTicks, groups, a, aJit, b, bJit, color, sig, tickGap }: any) => (
  <div style={{ position: "absolute", left, top: 846 }}>
    <ScatterChart width={width} height={180} margin={margin}>
      <XAxis
        type="number"
        dataKey="x"
        domain={[0.5, 2.51]}
        ticks={[1, 2]}
        tickFormatter={(v) => groups[v - 1]}
        allowDataOverflow
        height={xHeight}
        stroke="#333"
        tick={{ fontSize: 11, fill: INK, fontFamily: SERIF }}
        tickSize={5}
        tickMargin={2}
      />
      <YAxis
        type="number"
        dataKey="y"
        domain={yDomain}
        ticks={yTicks}
        allowDataOverflow
        width={40}
        stroke="#333"
        tick={{ fontSize: 10.5, fill: INK, fontFamily: SERIF }}
        tickSize={tickGap[0]}
        tickMargin={tickGap[1]}
      />
      <Scatter data={a.map((y: number, i: number) => ({ x: 1 + aJit[i], y }))} shape={roundDot} isAnimationActive={false} />
      <Scatter data={b.map((y: number, i: number) => ({ x: 2 + bJit[i], y }))} shape={square} isAnimationActive={false} />
      {summaryLines(1, a, 0.34, 0.17, color)}
      {summaryLines(2, b, 0.34, 0.17, color)}
      {sig ? (
        <ReferenceLine
          segment={[{ x: 0.99, y: 19 }, { x: 2.03, y: 19 }]}
          stroke="#666"
          strokeWidth={1}
          ifOverflow="visible"
          label={{ value: "***", position: "top", fill: "#888", fontSize: 10, fontFamily: SERIF, offset: 2 }}
        />
      ) : null}
    </ScatterChart>
  </div>
);

export default function App() {
  return (
    <div
      style={{
        position: "absolute",
        left: 0,
        top: 0,
        width: 654,
        height: 1065,
        background: "#fff",
        overflow: "hidden",
        fontFamily: SERIF,
      }}
    >
      <Volcano
        left={0}
        up={upA}
        down={downA}
        rest={restA}
        yDomain={[-0.205, 4.44]}
        yTicks={[0, 1, 2, 3, 4]}
        yWidth={37}
        xHeight={30}
        xDomain={[-5.41, 5.4]}
        right={9}
      />
      <Volcano
        left={327}
        up={upB}
        down={downB}
        rest={restB}
        yDomain={[-0.87, 17.52]}
        yTicks={[0, 5, 10, 15]}
        yWidth={45.7}
        xHeight={31.7}
        xDomain={[-5.4, 5.42]}
        right={0}
      />
      <Txt x={8} y={90} rotate>
        {"\u2212log10 ("}<i>P</i>{" value)"}
      </Txt>
      <Txt x={339} y={90} rotate>
        {"\u2212log10 ("}<i>P</i>{" value)"}
      </Txt>
      <Txt x={174} y={245}>log2 (FC)</Txt>
      <Txt x={498} y={245}>log2 (FC)</Txt>
      <Txt x={154} y={266}>(a)</Txt>
      <Txt x={477} y={266}>(b)</Txt>

      <Txt x={157} y={287} size={11}>{vennSets[0]}</Txt>
      <Txt x={245} y={287} size={11}>{vennSets[1]}</Txt>
      <Txt x={391.7} y={287} size={11}>{vennSets[0]}</Txt>
      <Txt x={479.3} y={287} size={11}>{vennSets[1]}</Txt>
      <Venn left={0} cLeft={158.2} cRight={245.2} cy={106} r={66.5} counts={vennUp} pct={vennUpPct} labelX={[146, 202, 260]} />
      <Venn left={327} cLeft={62.7} cRight={154} cy={107} r={64} counts={vennDown} pct={vennDownPct} labelX={[53, 110, 170]} />
      <Txt x={205} y={450}>(c)</Txt>
      <Txt x={446} y={450}>(d)</Txt>

      <HeatTable />
      <Txt x={327} y={837}>(e)</Txt>

      <Strip
        left={0}
        width={330}
        margin={{ top: 10.7, right: 10, bottom: 0, left: 55.7 }}
        xHeight={21.7}
        yDomain={[11, 17]}
        yTicks={[11, 12, 13, 14, 15, 16, 17]}
        groups={groupsF}
        a={normalExpr}
        aJit={normalJitter}
        b={pcExpr}
        bJit={pcJitter}
        color="#333"
        sig={false}
        tickGap={[5, 4.5]}
      />
      <Strip
        left={320}
        width={334}
        margin={{ top: 12.3, right: 55.7, bottom: 0, left: 13.3 }}
        xHeight={20.3}
        yDomain={[0, 20]}
        yTicks={[0, 5, 10, 15, 20]}
        groups={groupsG}
        a={paraExpr}
        aJit={paraJitter}
        b={pdacExpr}
        bJit={pdacJitter}
        color="#777"
        sig
        tickGap={[4, 3.6]}
      />
      <Txt x={63.3} y={930} size={11} rotate>circ_0043278 expression (log2)</Txt>
      <Txt x={333.3} y={930} size={11} rotate>circ_0043278 expression (log2)</Txt>
      <Txt x={208.3} y={1038.3} size={11}>GSE69362</Txt>
      <Txt x={485} y={1038} size={11}>GSE79634</Txt>
      <Txt x={208} y={1059}>(f)</Txt>
      <Txt x={463.3} y={1059}>(g)</Txt>
    </div>
  );
}
